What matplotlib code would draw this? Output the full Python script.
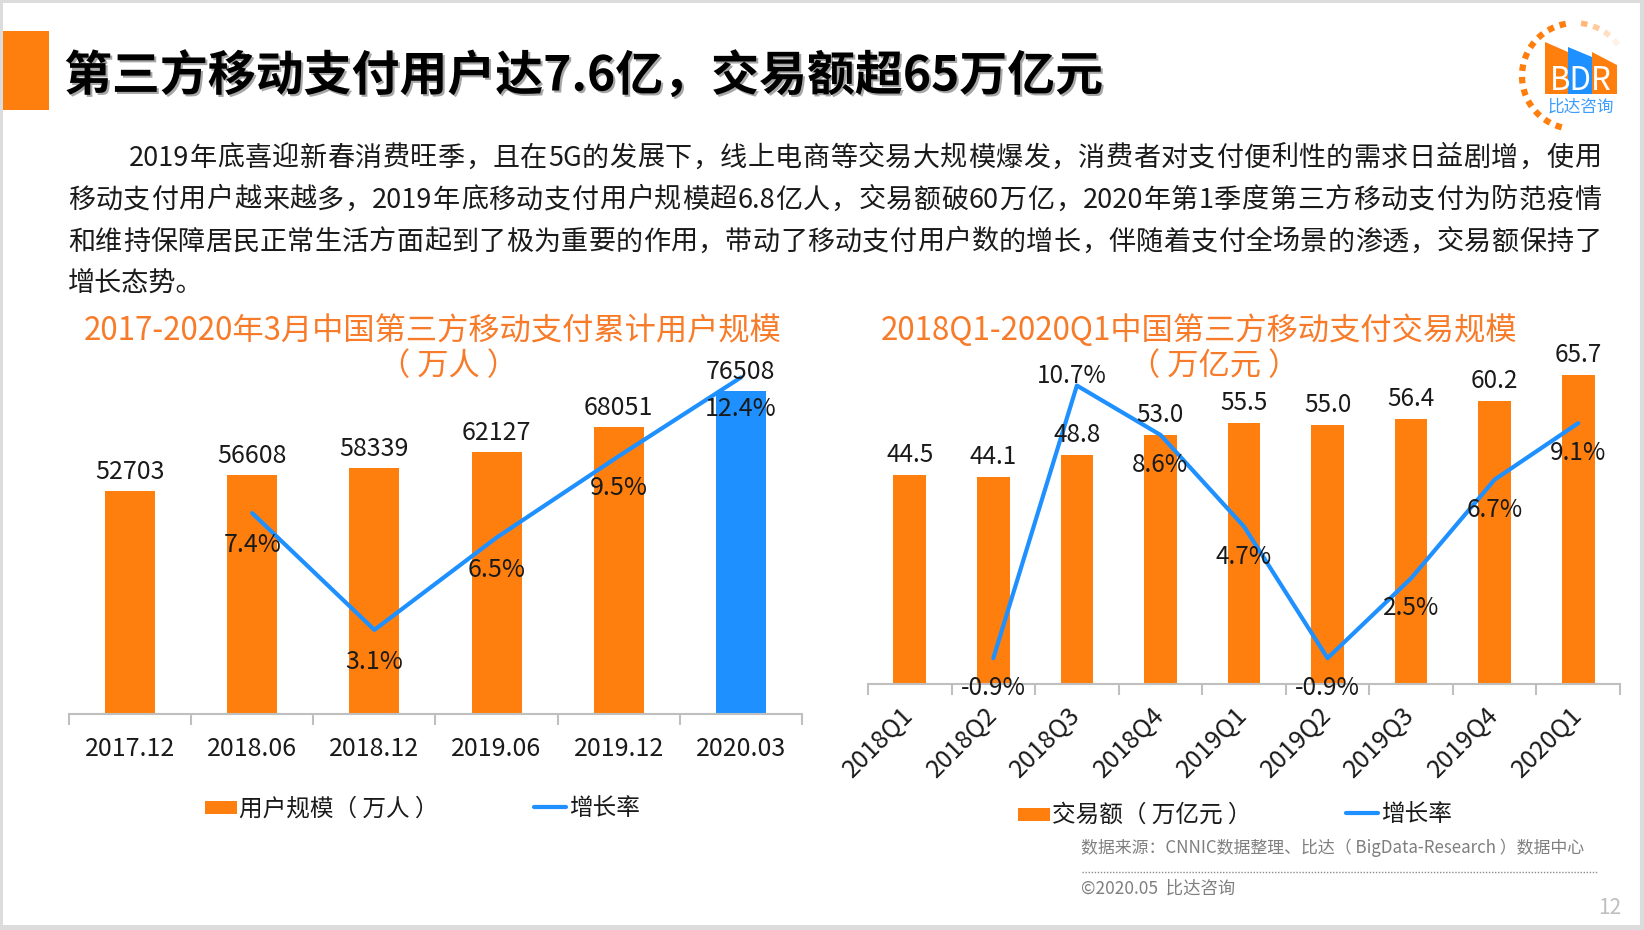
import matplotlib
matplotlib.use('Agg')
import matplotlib.pyplot as plt
from matplotlib.patches import Rectangle, Polygon
from matplotlib.lines import Line2D
from matplotlib.font_manager import FontProperties
import matplotlib.patheffects as pe
import numpy as np

FAM = ['Noto Sans CJK SC', 'DejaVu Sans']
plt.rcParams['font.family'] = FAM

# ---------------- data ----------------
user_periods = ['2017.12', '2018.06', '2018.12', '2019.06', '2019.12', '2020.03']
user_values = [52703, 56608, 58339, 62127, 68051, 76508]
user_growth = [None, 7.4, 3.1, 6.5, 9.5, 12.4]

trade_quarters = ['2018Q1', '2018Q2', '2018Q3', '2018Q4', '2019Q1',
                  '2019Q2', '2019Q3', '2019Q4', '2020Q1']
trade_values = [44.5, 44.1, 48.8, 53.0, 55.5, 55.0, 56.4, 60.2, 65.7]
trade_growth = [None, -0.9, 10.7, 8.6, 4.7, -0.9, 2.5, 6.7, 9.1]

main_title = '第三方移动支付用户达7.6亿，交易额超65万亿元'
paragraph = [
    '2019年底喜迎新春消费旺季，且在5G的发展下，线上电商等交易大规模爆发，消费者对支付便利性的需求日益剧增，使用',
    '移动支付用户越来越多，2019年底移动支付用户规模超6.8亿人，交易额破60万亿，2020年第1季度第三方移动支付为防范疫情',
    '和维持保障居民正常生活方面起到了极为重要的作用，带动了移动支付用户数的增长，伴随着支付全场景的渗透，交易额保持了',
    '增长态势。',
]
left_title = ['2017-2020年3月中国第三方移动支付累计用户规模', '（ 万人 ）']
right_title = ['2018Q1-2020Q1中国第三方移动支付交易规模', '（ 万亿元 ）']
left_legend = ['用户规模（ 万人 ）', '增长率']
right_legend = ['交易额（ 万亿元 ）', '增长率']
source_text = '数据来源：CNNIC数据整理、比达（ BigData-Research ）数据中心'
copyright_text = '©2020.05  比达咨询'
page_no = '12'

ORANGE = '#FF7F0E'
BLUE = '#1E90FF'
TITLE_OR = '#F77B29'
TXT = '#1A1A1A'
AXC = '#BFBFBF'

W, H = 1644, 930
fig = plt.figure(figsize=(W / 100, H / 100), dpi=100)
fig.patch.set_facecolor('#DCDCDC')

bg = fig.add_axes([0, 0, 1, 1], zorder=0)
bg.set_xlim(0, W)
bg.set_ylim(H, 0)
bg.axis('off')
bg.add_patch(Rectangle((3, 3), W - 7, H - 8, facecolor='white', edgecolor='none'))

# header bar + title
bg.add_patch(Rectangle((3, 31), 46, 79, facecolor=ORANGE, edgecolor='none'))
bg.text(64, 76, main_title, fontsize=34.5, fontweight='bold', color='black',
        ha='left', va='center',
        path_effects=[pe.withSimplePatchShadow(offset=(1.5, -1.5), alpha=0.35)])

# ---- logo ----
cx, cy, r = 1575, 76, 53
angs = np.arange(252, 92, -13.5)
for a in angs:
    t = np.radians(np.linspace(a - 3.5, a + 3.5, 5))
    bg.plot(cx + r * np.cos(t), cy - r * np.sin(t), color=ORANGE, lw=4.5,
            solid_capstyle='butt')
for k, a in enumerate(np.arange(80, 35, -13.5)):
    t = np.radians(np.linspace(a - 3.5, a + 3.5, 5))
    bg.plot(cx + r * np.cos(t), cy - r * np.sin(t), color=ORANGE, lw=4,
            alpha=0.55 - 0.15 * k, solid_capstyle='butt')
bg.add_patch(Polygon([(1545, 42), (1568, 52), (1568, 94), (1545, 94)],
                     facecolor=ORANGE, edgecolor='none'))
bg.add_patch(Polygon([(1568, 47), (1592, 57), (1592, 94), (1568, 94)],
                     facecolor=BLUE, edgecolor='none'))
bg.add_patch(Polygon([(1592, 52), (1617, 65), (1617, 94), (1592, 94)],
                     facecolor=ORANGE, edgecolor='none'))
bg.text(1581, 81, 'BDR', fontsize=22.5, color='white', ha='center', va='center')
bg.text(1581, 107, '比达咨询', fontsize=12, color='#3C9DFF', ha='center', va='center')

# ---- paragraph (justified) ----
fig.canvas.draw()
renderer = fig.canvas.get_renderer()
PFS = 19.5
prop = FontProperties(family=FAM, size=PFS)


def tokens(s):
    out, buf = [], ''
    for c in s:
        if ord(c) < 128:
            buf += c
        else:
            if buf:
                out.append(buf)
                buf = ''
            out.append(c)
    if buf:
        out.append(buf)
    return out


line_y = [158, 200, 242, 284]
line_x0 = [129, 68, 68, 68]
X1 = 1601
for i, s in enumerate(paragraph):
    if i == len(paragraph) - 1:
        bg.text(line_x0[i], line_y[i], s, fontsize=PFS, color=TXT, ha='left', va='center')
        continue
    toks = tokens(s)
    ws = [renderer.get_text_width_height_descent(t, prop, ismath=False)[0] for t in toks]
    gap = (X1 - line_x0[i] - sum(ws)) / (len(toks) - 1)
    x = line_x0[i]
    for t, w in zip(toks, ws):
        bg.text(x, line_y[i], t, fontproperties=prop, color=TXT, ha='left', va='center')
        x += w + gap

# ---- chart titles ----
bg.text(433, 331, left_title[0], fontsize=22.5, color=TITLE_OR, ha='center', va='center')
bg.text(448, 366, left_title[1], fontsize=22.5, color=TITLE_OR, ha='center', va='center')
bg.text(1199, 331, right_title[0], fontsize=22.5, color=TITLE_OR, ha='center', va='center')
bg.text(1214, 366, right_title[1], fontsize=22.5, color=TITLE_OR, ha='center', va='center')


def style_axes(ax, n):
    ax.set_facecolor('none')
    for sp in ['top', 'left', 'right']:
        ax.spines[sp].set_visible(False)
    ax.spines['bottom'].set_color(AXC)
    ax.spines['bottom'].set_linewidth(1.5)
    ax.set_yticks([])
    ax.set_xlim(-0.5, n - 0.5)
    ax.set_xticks(np.arange(n))
    ax.set_xticks(np.arange(n + 1) - 0.5, minor=True)
    ax.tick_params(axis='x', which='minor', length=8, width=1.5, color=AXC)
    ax.tick_params(axis='x', which='major', length=0)


# ---------------- left chart ----------------
axL = fig.add_axes([69 / W, (H - 714) / H, 733 / W, 380 / H], zorder=2)
n = len(user_periods)
xs = np.arange(n)
colsL = [ORANGE] * (n - 1) + [BLUE]
axL.bar(xs, user_values, width=0.41, color=colsL)
axL.set_ylim(0, 90000)
style_axes(axL, n)
axL.set_xticklabels(user_periods, fontsize=18, color=TXT)
axL.tick_params(axis='x', which='major', pad=15.5)
axL2 = axL.twinx()
axL2.set_ylim(0, 14)
axL2.axis('off')
gx = [i for i, g in enumerate(user_growth) if g is not None]
gy = [g for g in user_growth if g is not None]
axL2.plot(gx, gy, color=BLUE, lw=3, solid_capstyle='round', solid_joinstyle='round')
for i, v in enumerate(user_values):
    axL2.annotate(f'{v}', xy=(i, v), xycoords=axL.transData, xytext=(0, 19),
                  textcoords='offset pixels', ha='center', va='center',
                  fontsize=18, color=TXT)
for i, g in zip(gx, gy):
    axL2.annotate(f'{g}%', xy=(i, g), xytext=(0, -32), textcoords='offset pixels',
                  ha='center', va='center', fontsize=18, color=TXT)

# ---------------- right chart ----------------
axR = fig.add_axes([868 / W, (H - 684) / H, 752 / W, 376 / H], zorder=2)
m = len(trade_quarters)
xr = np.arange(m)
axR.bar(xr, trade_values, width=0.39, color=ORANGE)
axR.set_ylim(0, 80)
style_axes(axR, m)
axR.set_xticklabels(trade_quarters, fontsize=18, color=TXT, rotation=45,
                    ha='right', va='center', rotation_mode='anchor')
axR.tick_params(axis='x', which='major', pad=20)
axR2 = axR.twinx()
axR2.set_ylim(-2, 14)
axR2.axis('off')
rx = [i for i, g in enumerate(trade_growth) if g is not None]
ry = [g for g in trade_growth if g is not None]
axR2.plot(rx, ry, color=BLUE, lw=3, solid_capstyle='round', solid_joinstyle='round')
for i, v in enumerate(trade_values):
    axR2.annotate(f'{v:.1f}', xy=(i, v), xycoords=axR.transData, xytext=(0, 20),
                  textcoords='offset pixels', ha='center', va='center',
                  fontsize=17.5, color=TXT)
for i, g in zip(rx, ry):
    off = (-5, 10) if g == max(ry) else (0, -30)
    axR2.annotate(f'{g}%', xy=(i, g), xytext=off, textcoords='offset pixels',
                  ha='center', va='center', fontsize=17.5, color=TXT)

# ---------------- legends ----------------
bg.add_patch(Rectangle((205, 801), 32, 13, facecolor=ORANGE, edgecolor='none'))
bg.text(239, 809, left_legend[0], fontsize=17, color=TXT, ha='left', va='center')
bg.add_line(Line2D([534, 566], [807, 807], color=BLUE, lw=3, solid_capstyle='round'))
bg.text(569, 808, left_legend[1], fontsize=17, color=TXT, ha='left', va='center')

bg.add_patch(Rectangle((1018, 808), 32, 13, facecolor=ORANGE, edgecolor='none'))
bg.text(1052, 815, right_legend[0], fontsize=17, color=TXT, ha='left', va='center')
bg.add_line(Line2D([1346, 1378], [813, 813], color=BLUE, lw=3, solid_capstyle='round'))
bg.text(1381, 814, right_legend[1], fontsize=17, color=TXT, ha='left', va='center')

# ---------------- footer ----------------
bg.text(1081, 848, source_text, fontsize=12.2, color='#7F7F7F', ha='left', va='center')
bg.add_line(Line2D([1082, 1597], [872, 872], color='#8C8C8C', lw=1,
                   linestyle=(0, (1, 1.2))))
bg.text(1081, 889, copyright_text, fontsize=12.5, color='#7F7F7F', ha='left', va='center')
bg.text(1621, 908, page_no, fontsize=15, color='#BFBFBF', ha='right', va='center')

fig.savefig('out.png', dpi=100, facecolor=fig.get_facecolor())
